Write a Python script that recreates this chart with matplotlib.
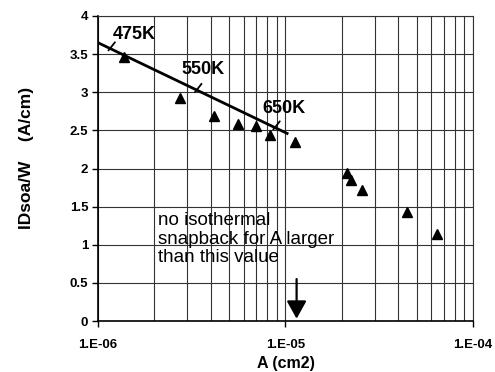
import numpy as np
import matplotlib.pyplot as plt
from matplotlib.ticker import FixedLocator, LogLocator, NullFormatter, NullLocator

plt.rcParams['font.family'] = ['Liberation Sans', 'DejaVu Sans']

# measured points (area in cm2, IDsoa/W in A/cm)
area = [1.37e-6, 2.74e-6, 4.15e-6, 5.6e-6, 6.93e-6, 8.26e-6, 1.12e-5,
        2.12e-5, 2.23e-5, 2.55e-5, 4.46e-5, 6.44e-5]
idsoa = [3.46, 2.92, 2.69, 2.59, 2.56, 2.44, 2.35,
         1.94, 1.85, 1.72, 1.43, 1.14]

# isothermal model line
fit_x = [1.0e-6, 1.02e-5]
fit_y = [3.65, 2.46]

# temperature marks along the line
temp_labels = ['475K', '550K', '650K']
temp_x = [1.16e-6, 3.36e-6, 8.78e-6]
label_x = [1.2e-6, 2.8e-6, 7.49e-6]
label_y = [3.70, 3.24, 2.73]

# snapback limit
limit_x = 1.146e-5

yticks = [0, 0.5, 1, 1.5, 2, 2.5, 3, 3.5, 4]
ytick_labels = ['0', '0.5', '1', '1.5', '2', '2.5', '3', '3.5', '4']
xticks = [1e-6, 1e-5, 1e-4]
xtick_labels = ['1.E-06', '1.E-05', '1.E-04']

fig = plt.figure(figsize=(4.95, 3.72), dpi=100)
ax = fig.add_axes([98 / 495, 1 - 321 / 372, 375 / 495, 305 / 372])

ax.set_xscale('log')
ax.set_xlim(1e-6, 1e-4)
ax.set_ylim(0, 4)

ax.xaxis.set_major_locator(FixedLocator(xticks))
ax.xaxis.set_minor_locator(LogLocator(base=10, subs=np.arange(2, 10)))
ax.xaxis.set_minor_formatter(NullFormatter())
ax.set_xticklabels(xtick_labels, fontsize=9.5, fontweight='bold')
ax.set_yticks(yticks)
ax.set_yticklabels(ytick_labels, fontsize=9.5, fontweight='bold')
ax.yaxis.set_minor_locator(NullLocator())

ax.tick_params(axis='x', which='major', length=4, width=1, pad=9, direction='out')
ax.tick_params(axis='x', which='minor', length=0)
ax.tick_params(axis='y', length=4, width=1, pad=3, direction='out')

ax.grid(True, axis='x', which='both', color='0.2', lw=0.8)
ax.grid(True, axis='y', which='major', color='0.2', lw=0.8)
for s in ['left', 'bottom']:
    ax.spines[s].set_linewidth(1.2)
for s in ['top', 'right']:
    ax.spines[s].set_linewidth(0.8)
    ax.spines[s].set_color('0.2')

ax.plot(area, idsoa, linestyle='none', marker='^', ms=7.5, color='black', zorder=3)
ax.plot(fit_x, fit_y, color='black', lw=2, zorder=3)

log_fx = np.log10(fit_x)
for lab, tx, lx, ly in zip(temp_labels, temp_x, label_x, label_y):
    ty = np.interp(np.log10(tx), log_fx, fit_y)
    ax.annotate('', xy=(tx, ty), xytext=(3.5, 4.5), textcoords='offset points',
                arrowprops=dict(arrowstyle='-', lw=1.3, color='black',
                                shrinkA=0, shrinkB=0))
    ax.annotate('', xy=(tx, ty), xytext=(-1.2, -1.4), textcoords='offset points',
                arrowprops=dict(arrowstyle='-', lw=1.3, color='black',
                                shrinkA=0, shrinkB=0))
    ax.text(lx, ly, lab, fontsize=13, fontweight='bold', ha='left', va='baseline')

ax.annotate('', xy=(limit_x, 0.03), xytext=(limit_x, 0.55),
            arrowprops=dict(arrowstyle='-|>,head_length=0.9,head_width=0.5',
                            mutation_scale=12, lw=1.6, color='black',
                            shrinkA=0, shrinkB=0), zorder=4)
ax.text(2.09e-6, 1.43, 'no isothermal\nsnapback for A larger\nthan this value',
        fontsize=13.5, ha='left', va='top', linespacing=1.12)

ax.set_xlabel('A (cm2)', fontsize=11.5, fontweight='bold')
ax.xaxis.set_label_coords(0.5, -0.115)
ax.set_ylabel('IDsoa/W    (A/cm)', fontsize=12.5, fontweight='bold')
ax.yaxis.set_label_coords(-0.17, 0.535)

fig.savefig('out.png', dpi=100)
